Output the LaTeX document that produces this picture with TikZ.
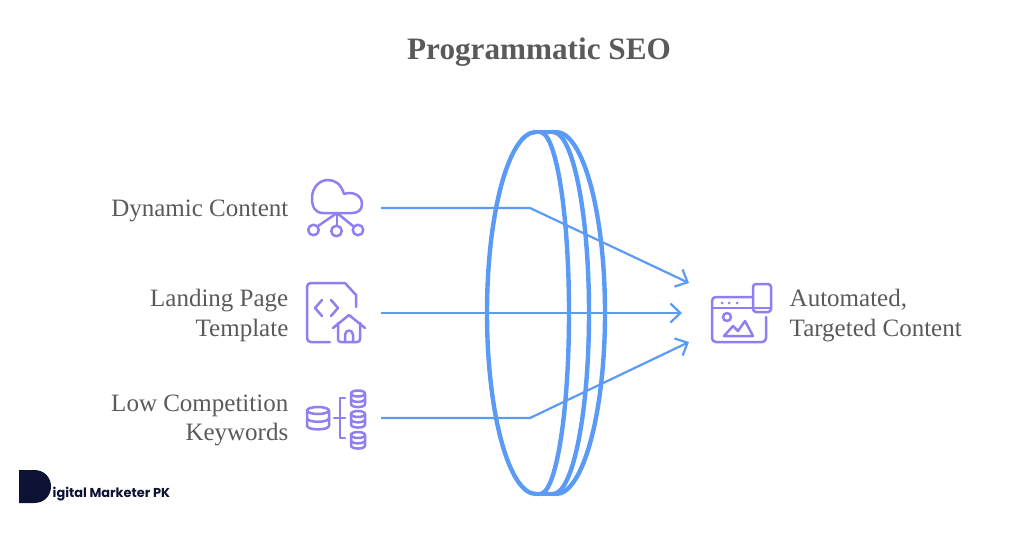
\documentclass[tikz,border=0pt]{standalone}
\usepackage{fontspec}
\setmainfont{Liberation Serif}
\newfontfamily\logofont{Poppins}
\usetikzlibrary{arrows.meta}
\definecolor{lensblue}{HTML}{5B9BF6}
\definecolor{iconviolet}{HTML}{8F80F2}
\definecolor{labelgrey}{HTML}{5A5A5A}
\definecolor{logonavy}{HTML}{0B1234}
\tikzset{
  lens/.style={draw=lensblue,line width=4.4pt,line join=round,line cap=round},
  flow/.style={draw=lensblue,line width=2.2pt,-{Straight Barb[length=10pt,width=19pt,line width=2.2pt]}},
  icon/.style={draw=iconviolet,line width=2.5pt,line join=round,line cap=round},
  labeltext/.style={text=labelgrey,font=\fontsize{25}{29.5}\selectfont,inner sep=0pt},
  titletext/.style={text=labelgrey,font=\fontsize{31.2}{36}\selectfont\bfseries,inner sep=0pt},
}
\begin{document}
\begin{tikzpicture}[x=1pt,y=-1pt]
\useasboundingbox (0,0) rectangle (1024,538);
\node[titletext] (title) at (539,52) {Programmatic SEO};

% lens
\draw[lens] (536,132) arc[start angle=90,delta angle=180,x radius=49pt,y radius=181pt];
\draw[lens] (540,132) arc[start angle=90,delta angle=-180,x radius=29pt,y radius=181pt];
\draw[lens] (553,132) arc[start angle=90,delta angle=-180,x radius=36pt,y radius=181pt];
\draw[lens] (556,132) arc[start angle=90,delta angle=-180,x radius=49pt,y radius=181pt];
\draw[lens] (536,132) -- (556,132);
\draw[lens] (536,494) -- (556,494);

% labels
\node[labeltext,anchor=east,align=right] (dyn) at (288.5,210.5) {Dynamic Content};
\node[labeltext,anchor=east,align=right] (land) at (288.5,315.5) {Landing Page\\Template};
\node[labeltext,anchor=east,align=right] (low) at (288.5,420.5) {Low Competition\\Keywords};
\node[labeltext,anchor=west,align=left] (auto) at (789.5,315.5) {Automated,\\Targeted Content};

% connectors
\coordinate (s1) at (381,208);
\coordinate (s2) at (381,313);
\coordinate (s3) at (381,418);
\coordinate (b1) at (530,208);
\coordinate (b3) at (530,418);
\coordinate (e1) at (689,283);
\coordinate (e2) at (682,313);
\coordinate (e3) at (689,342);
\draw[flow] (s1) -- (b1) -- (e1);
\draw[flow] (s2) -- (e2);
\draw[flow] (s3) -- (b3) -- (e3);

% cloud icon
\draw[icon] (337,213) -- (323,213) .. controls (315,213) and (312,207) .. (312,198)
  .. controls (312,188) and (319,180) .. (328,180)
  .. controls (335,180) and (341,184) .. (344,194)
  .. controls (352,191) and (362,195) .. (362,204)
  .. controls (362,210) and (358,213) .. (352,213) -- (337,213);
\draw[icon] (337,213) -- (337,225);
\draw[icon] (337,213) -- (318,226);
\draw[icon] (337,213) -- (353,226);
\draw[icon] (313.5,230) circle[radius=5.3pt];
\draw[icon] (336.5,231) circle[radius=5.3pt];
\draw[icon] (358,230) circle[radius=5.3pt];

% document with house icon
\draw[icon] (330,342) -- (311,342) .. controls (308.5,342) and (307,340.5) .. (307,338)
  -- (307,287) .. controls (307,284.5) and (308.5,283) .. (311,283)
  -- (345,283) -- (356,295) -- (356,307);
\draw[icon] (322,300) -- (315,308) -- (322,316);
\draw[icon] (331,300) -- (338,308) -- (331,316);
\draw[icon] (333,328) -- (349,315) -- (365,328);
\draw[icon] (338,323) -- (338,339) .. controls (338,341) and (339,342) .. (341,342)
  -- (357,342) .. controls (359,342) and (360,341) .. (360,339) -- (360,323);
\draw[icon] (345,342) -- (345,335) .. controls (345,329) and (353,329) .. (353,335) -- (353,342);

% database icon
\foreach \cx/\cy/\rx/\ry/\tier in {318/407/11/3.5/7.6,358/390.5/7/3/5.2,358/411/7/3/5.2,358/432/7/3/5.2}{
  \draw[icon] (\cx,\cy+\ry) circle[x radius=\rx pt,y radius=\ry pt];
  \draw[icon] (\cx-\rx,\cy+\ry) -- (\cx-\rx,\cy+\ry+2*\tier)
     .. controls (\cx-\rx,\cy+\ry+2*\tier+1.4*\ry) and (\cx+\rx,\cy+\ry+2*\tier+1.4*\ry) .. (\cx+\rx,\cy+\ry+2*\tier)
     -- (\cx+\rx,\cy+\ry);
  \draw[icon] (\cx-\rx,\cy+\ry+\tier) .. controls (\cx-\rx,\cy+\ry+\tier+1.4*\ry) and (\cx+\rx,\cy+\ry+\tier+1.4*\ry) .. (\cx+\rx,\cy+\ry+\tier);
}
\draw[icon] (345,398) -- (340,398) -- (340,438) -- (345,438);
\draw[icon] (334,418) -- (345,418);

% browser and phone icon
\draw[icon] (752,297) -- (716,297) .. controls (713.5,297) and (712,298.5) .. (712,301)
  -- (712,338) .. controls (712,340.5) and (713.5,342) .. (716,342)
  -- (762,342) .. controls (764.5,342) and (766,340.5) .. (766,338) -- (766,317);
\draw[icon] (712,308) -- (752,308);
\fill[iconviolet] (722,303) circle[radius=1.5pt] (729,303) circle[radius=1.5pt] (737,303) circle[radius=1.5pt];
\draw[icon,rounded corners=3pt] (753,284) rectangle (771,312);
\draw[icon] (753,308) -- (771,308);
\draw[icon] (727,317) circle[radius=4pt];
\draw[icon] (724,336) -- (733,326) -- (738,331) -- (745,321) -- (753,336) -- cycle;

% logo
\fill[logonavy] (19,470) -- (34,470) .. controls (45,470) and (51,478) .. (51,486.5)
  .. controls (51,495) and (45,503) .. (34,503) -- (19,503) -- cycle;
\node[anchor=base west,inner sep=0pt,text=logonavy,font=\logofont\bfseries\fontsize{12.9}{15}\selectfont] (logo) at (52.5,497) {igital Marketer PK};
\end{tikzpicture}
\end{document}
